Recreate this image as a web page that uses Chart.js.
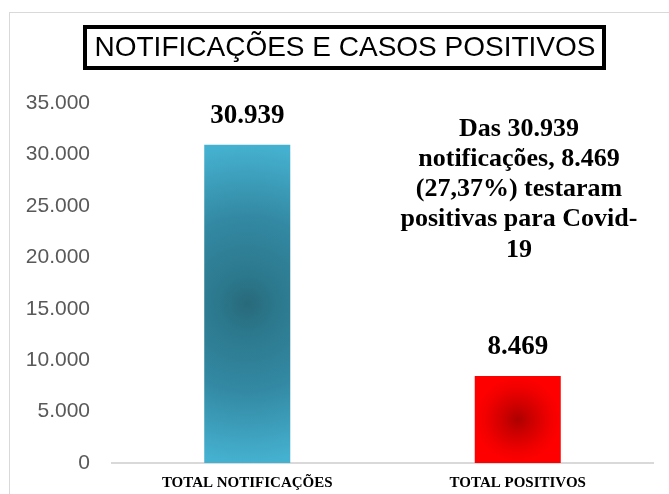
<!DOCTYPE html>
<html>
<head>
<meta charset="utf-8">
<script src="https://cdn.jsdelivr.net/npm/chart.js@4"></script>
<style>
  body { margin: 0; background: #fff; }
  #wrap { position: relative; width: 669px; height: 494px; }
  #frame { position: absolute; left: 9px; top: 12px; width: 700px; height: 520px; border: 1px solid #d9d9d9; box-sizing: border-box; }
</style>
</head>
<body>
<div id="wrap">
  <div id="frame"></div>
  <canvas id="casesChart" width="669" height="494"></canvas>
</div>
<script>
// chart data
var categories = ['TOTAL NOTIFICAÇÕES', 'TOTAL POSITIVOS'];
var totals = [30939, 8469];
var valueLabels = ['30.939', '8.469'];
var yTicks = [0, 5000, 10000, 15000, 20000, 25000, 30000, 35000];
var chartTitle = 'NOTIFICAÇÕES E CASOS POSITIVOS';
var noteLines = ['Das 30.939', 'notificações, 8.469', '(27,37%) testaram', 'positivas para Covid-', '19'];

// colour stops for the radial fill of each bar (center -> edge)
var barStops = [
    [[0, '#286a7b'], [0.2, '#2c798e'], [0.55, '#3389a3'], [1, '#45b1d0']],
    [[0, '#ad0000'], [0.35, '#d00000'], [0.75, '#f20000'], [1, '#ff0000']]
];

function barFill(ctx) {
    var chart = ctx.chart;
    if (!chart.chartArea || !chart.scales.x) return '#45b1d0';
    var i = ctx.dataIndex;
    var cx = chart.scales.x.getPixelForValue(i);
    var top = chart.scales.y.getPixelForValue(totals[i]);
    var base = chart.scales.y.getPixelForValue(0);
    var cy = (top + base) / 2;
    var r = (base - top) / 2;
    var g = chart.ctx.createRadialGradient(cx, cy, 0, cx, cy, r);
    barStops[i].forEach(function (s) { g.addColorStop(s[0], s[1]); });
    return g;
}

// draws the boxed title, the value labels and the note text
var extras = {
    id: 'extras',
    afterDraw: function (chart) {
        var c = chart.ctx;
        c.save();
        // title box
        c.lineWidth = 4;
        c.strokeStyle = '#000';
        c.strokeRect(85, 27, 519, 41);
        c.fillStyle = '#000';
        c.font = '28px "Liberation Sans", Arial, sans-serif';
        c.textAlign = 'center';
        c.textBaseline = 'middle';
        c.fillText(chartTitle, 345, 48);

        // value labels on top of the bars
        c.font = 'bold 27px "Liberation Serif", "Times New Roman", serif';
        c.textBaseline = 'bottom';
        var meta = chart.getDatasetMeta(0);
        meta.data.forEach(function (bar, i) {
            c.fillText(valueLabels[i], bar.x, bar.y - 15);
        });

        // note
        c.font = 'bold 26px "Liberation Serif", "Times New Roman", serif';
        c.textBaseline = 'middle';
        noteLines.forEach(function (line, i) {
            c.fillText(line, 519, 129 + i * 30.2);
        });
        c.restore();
    }
};

var casesChart = new Chart(document.getElementById('casesChart'), {
    type: 'bar',
    data: {
        labels: categories,
        datasets: [{
            data: totals,
            backgroundColor: barFill,
            borderWidth: 0,
            categoryPercentage: 1,
            barPercentage: 0.318
        }]
    },
    options: {
        responsive: false,
        animation: false,
        layout: { padding: { top: 103, right: 16, bottom: 0, left: 0 } },
        plugins: {
            legend: { display: false },
            title: { display: false },
            tooltip: { enabled: false }
        },
        scales: {
            y: {
                min: 0,
                max: 35000,
                afterFit: function (s) { s.width = 112; },
                afterBuildTicks: function (s) { s.ticks = yTicks.map(function (v) { return { value: v }; }); },
                // tick marks are not drawn (grid hidden), tickLength only moves the labels
                grid: { display: false, drawTicks: true, tickLength: 22 },
                border: { display: false },
                ticks: {
                    padding: 0,
                    color: '#595959',
                    font: { family: '"Liberation Sans", Arial, sans-serif', size: 21 },
                    callback: function (v) { return v.toLocaleString('pt-BR'); }
                }
            },
            x: {
                afterFit: function (s) { s.height = 31; },
                grid: { display: false, drawTicks: false },
                border: { display: true, color: '#d9d9d9', width: 2 },
                ticks: {
                    padding: 11,
                    color: '#000',
                    font: { family: '"Liberation Serif", "Times New Roman", serif', size: 15, weight: 'bold' }
                }
            }
        }
    },
    plugins: [extras]
});
</script>
</body>
</html>
